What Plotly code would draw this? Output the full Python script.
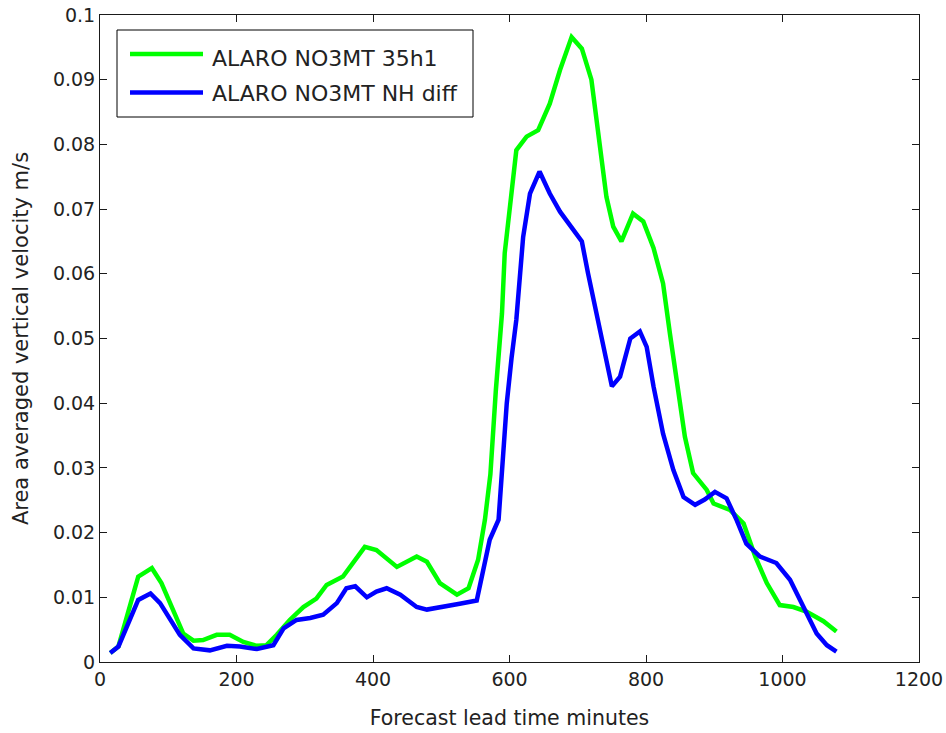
import plotly.graph_objects as go

# Green series: ALARO NO3MT 35h1
x_green = [15, 27, 56, 76, 90, 122, 137, 151, 171, 190, 210, 230, 244, 259, 278, 298, 317, 332,
           356, 371, 388, 405, 435, 464, 479, 498, 523, 540, 554, 564, 572, 580, 589, 593, 601,
           610, 625, 642, 659, 674, 691, 706, 720, 730, 742, 752, 764, 781, 796, 811, 825, 835,
           845, 857, 869, 889, 899, 923, 943, 960, 977, 996, 1016, 1035, 1060, 1079]
y_green = [0.0014, 0.0024, 0.0132, 0.0145, 0.0122, 0.0044, 0.0033, 0.0034, 0.0042, 0.0042,
           0.0031, 0.0025, 0.0026, 0.0042, 0.0065, 0.0085, 0.0098, 0.0119, 0.0132, 0.0153,
           0.0178, 0.0173, 0.0147, 0.0163, 0.0155, 0.0122, 0.0104, 0.0114, 0.0158, 0.0220,
           0.0290, 0.0420, 0.0539, 0.0632, 0.0709, 0.0791, 0.0812, 0.0822, 0.0863, 0.0915,
           0.0966, 0.0948, 0.0900, 0.0822, 0.0719, 0.0673, 0.0650, 0.0693, 0.0681, 0.0640,
           0.0585, 0.0508, 0.0431, 0.0348, 0.0292, 0.0266, 0.0245, 0.0235, 0.0214, 0.0163,
           0.0122, 0.0088, 0.0085, 0.0078, 0.0063, 0.0047]

# Blue series: ALARO NO3MT NH diff
x_blue = [15, 27, 56, 74, 88, 117, 137, 161, 186, 205, 230, 254, 269, 288, 308, 327, 347, 361,
          374, 391, 405, 420, 440, 464, 479, 503, 527, 552, 562, 571, 584, 596, 603, 610, 620,
          630, 644, 659, 674, 693, 706, 715, 728, 742, 750, 762, 777, 791, 801, 811, 825, 840,
          855, 872, 886, 901, 918, 933, 947, 967, 991, 1011, 1030, 1050, 1065, 1079]
y_blue = [0.0014, 0.0024, 0.0096, 0.0106, 0.0091, 0.0042, 0.0021, 0.0018, 0.0025, 0.0024,
          0.0020, 0.0026, 0.0052, 0.0065, 0.0068, 0.0073, 0.0091, 0.0114, 0.0117, 0.0100,
          0.0109, 0.0114, 0.0104, 0.0085, 0.0081, 0.0085, 0.0090, 0.0095, 0.0142, 0.0189,
          0.0220, 0.0400, 0.0470, 0.0529, 0.0657, 0.0724, 0.0758, 0.0724, 0.0696, 0.0668,
          0.0650, 0.0601, 0.0534, 0.0467, 0.0426, 0.0441, 0.0500, 0.0511, 0.0487, 0.0426,
          0.0353, 0.0297, 0.0255, 0.0243, 0.0251, 0.0263, 0.0253, 0.0219, 0.0183, 0.0163,
          0.0153, 0.0127, 0.0085, 0.0044, 0.0026, 0.0016]

series_names = ["ALARO NO3MT 35h1", "ALARO NO3MT NH diff"]
series_colors = ["#00ff00", "#0000ff"]

x_ticks = [0, 200, 400, 600, 800, 1000, 1200]
y_ticks = [0, 0.01, 0.02, 0.03, 0.04, 0.05, 0.06, 0.07, 0.08, 0.09, 0.1]
y_tick_labels = ["0", "0.01", "0.02", "0.03", "0.04", "0.05", "0.06", "0.07", "0.08", "0.09", "0.1"]

FONT = "DejaVu Sans, Liberation Sans, Arial, sans-serif"
TXT = "#222222"

W, H = 946, 733
ML, MR, MT, MB = 100, 27, 15, 71
PW, PH = W - ML - MR, H - MT - MB


def px(xp):
    return (xp - ML) / PW


def py(yp):
    return (H - MB - yp) / PH


fig = go.Figure()
for xs, ys, nm, col in [(x_green, y_green, series_names[0], series_colors[0]),
                        (x_blue, y_blue, series_names[1], series_colors[1])]:
    fig.add_trace(go.Scatter(x=xs, y=ys, mode="lines", name=nm,
                             line=dict(color=col, width=4.5), showlegend=False))

axis_common = dict(showgrid=False, zeroline=False, showline=True, linecolor="#1a1a1a",
                   linewidth=1, mirror="ticks", ticks="inside", ticklen=7, tickcolor="#1a1a1a",
                   tickfont=dict(family=FONT, size=19, color=TXT), automargin=False)

fig.update_xaxes(range=[0, 1200], tickvals=x_ticks, ticktext=[str(v) for v in x_ticks],
                 title=dict(text="Forecast lead time minutes", standoff=21,
                            font=dict(family=FONT, size=20.5, color=TXT)),
                 **axis_common)
fig.update_yaxes(range=[0, 0.1], tickvals=y_ticks, ticktext=y_tick_labels,
                 title=dict(text="Area averaged vertical velocity m/s", standoff=18,
                            font=dict(family=FONT, size=21, color=TXT)),
                 **axis_common)

# Legend drawn as a box with line samples and labels
shapes = [dict(type="rect", xref="paper", yref="paper", x0=px(117), x1=px(473),
               y0=py(117), y1=py(30), line=dict(color="#000000", width=1),
               fillcolor="white", layer="above")]
annotations = []
for i, (nm, col) in enumerate(zip(series_names, series_colors)):
    yl = [54, 92.5][i]
    yt = [58, 94][i]
    shapes.append(dict(type="line", xref="paper", yref="paper", x0=px(130), x1=px(203),
                       y0=py(yl), y1=py(yl), line=dict(color=col, width=4.5), layer="above"))
    annotations.append(dict(xref="paper", yref="paper", x=px(210), y=py(yt), text=nm,
                            showarrow=False, xanchor="left", yanchor="middle",
                            font=dict(family=FONT, size=22, color=TXT)))

fig.update_layout(
    width=W, height=H,
    margin=dict(l=ML, r=MR, t=MT, b=MB),
    plot_bgcolor="white", paper_bgcolor="white",
    font=dict(family=FONT, size=19, color=TXT),
    shapes=shapes, annotations=annotations,
    showlegend=False,
)

fig.write_html("out.html")
